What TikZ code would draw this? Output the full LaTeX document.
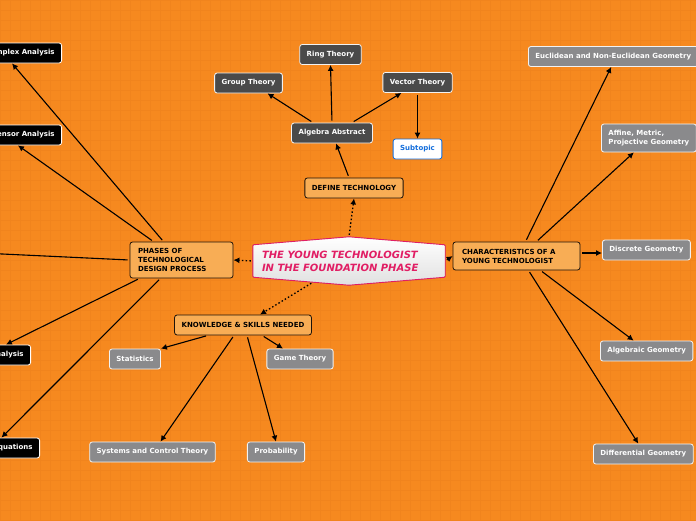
\documentclass[tikz,border=0pt]{standalone}
\usepackage{fontspec}
\setmainfont{DejaVu Sans}
\usetikzlibrary{arrows.meta,calc}
\definecolor{bg}{RGB}{246,137,31}
\definecolor{gridc}{RGB}{241,132,29}
\definecolor{boxo}{RGB}{248,173,85}
\definecolor{boxg}{RGB}{138,138,140}
\definecolor{boxd}{RGB}{74,74,74}
\definecolor{rootc}{RGB}{225,30,100}
\definecolor{subc}{RGB}{20,110,220}

\begin{document}
\begin{tikzpicture}[x=1pt,y=-1pt,
  lbl/.style={font=\fontsize{7}{9}\selectfont\bfseries,rounded corners=2.5pt,
    minimum height=20pt,inner xsep=7pt,inner ysep=2pt,line width=0.8pt},
  orng/.style={lbl,draw=black!85!brown,fill=boxo},
  gry/.style={lbl,draw=white!90!gray,fill=boxg,text=white},
  drk/.style={lbl,draw=white!90!gray,fill=boxd,text=white},
  blk/.style={lbl,draw=white,fill=black,text=white,anchor=east},
  sub/.style={lbl,draw=subc,fill=white,text=subc},
  link/.style={-{Latex[length=6pt,width=6pt]},line width=1.1pt,shorten <=2pt},
  dlink/.style={link,line width=1.3pt,dash pattern=on 1.5pt off 2.2pt}]
  \useasboundingbox (0,0) rectangle (696,520);
  \fill[bg] (0,0) rectangle (696,520);
  \draw[gridc,line width=0.35pt,step=10pt] (0,0) grid (696,520);
  \clip (0,0) rectangle (696,520);

  % central topic
  \node[minimum width=192pt,minimum height=48pt,inner sep=0pt] (root) at (349,261) {};
  \filldraw[draw=rootc,line width=0.9pt,top color=white,bottom color=black!12,rounded corners=1pt]
    ([yshift=-8pt]root.north west) -- (root.north) -- ([yshift=-8pt]root.north east)
    -- ([yshift=8pt]root.south east) -- (root.south) -- ([yshift=8pt]root.south west) -- cycle;
  \node[text=rootc,font=\fontsize{10}{13}\selectfont\bfseries\itshape,align=left,anchor=west,inner sep=0pt]
    (roottxt) at ([xshift=9pt]root.west) {THE YOUNG TECHNOLOGIST\\IN THE FOUNDATION PHASE};

  % main branches
  \node[orng,text width=87pt,align=left,minimum height=36pt,inner xsep=8pt] (phases) at (181.5,260)
    {PHASES OF\\TECHNOLOGICAL\\DESIGN PROCESS};
  \node[orng,text width=109pt,align=left,minimum height=28pt,inner xsep=9pt] (chars) at (516.5,256)
    {CHARACTERISTICS OF A\\YOUNG TECHNOLOGIST};
  \node[orng] (define) at (354,188) {DEFINE TECHNOLOGY};
  \node[orng] (know) at (243,325) {KNOWLEDGE \& SKILLS NEEDED};

  % define technology
  \node[drk] (alg) at (332,133) {Algebra Abstract};
  \node[drk] (ring) at (330.5,54.5) {Ring Theory};
  \node[drk] (group) at (248.5,83) {Group Theory};
  \node[drk] (vector) at (417.5,82.5) {Vector Theory};
  \node[sub] (subtopic) at (417.5,149) {Subtopic};

  % knowledge
  \node[gry] (stats) at (135,359) {Statistics};
  \node[gry] (game) at (300,359) {Game Theory};
  \node[gry] (systems) at (152.5,452) {Systems and Control Theory};
  \node[gry] (prob) at (276,452) {Probability};

  % characteristics
  \node[gry,anchor=west] (euclid) at (528,56.5) {Euclidean and Non-Euclidean Geometry};
  \node[gry,anchor=west,align=left,minimum height=28pt] (affine) at (601,138)
    {Affine, Metric,\\Projective Geometry};
  \node[gry,anchor=west] (discrete) at (602,250) {Discrete Geometry};
  \node[gry,anchor=west] (algebraic) at (600,351) {Algebraic Geometry};
  \node[gry,anchor=west] (differential) at (593,454) {Differential Geometry};

  % phases
  \node[blk] (complex) at (62,53) {Complex Analysis};
  \node[blk] (tensor) at (62,135) {Tensor Analysis};
  \node[blk] (numerical) at (31,355) {Numerical Analysis};
  \node[blk] (equations) at (40,448) {Differential Equations};
  \coordinate (offleft) at (-40,252);

  % connectors
  \draw[dlink] (root.west) -- (phases.east);
  \draw[dlink] (root.north) -- (define.south);
  \draw[dlink] ([xshift=-36pt,yshift=3pt]root.south) -- ([xshift=17pt]know.north);
  \draw[dlink] (root.east) -- (chars.west);

  \draw[link] ([xshift=-5pt]define.north) -- ([xshift=4pt]alg.south);
  \draw[link] ([xshift=-19pt]alg.north) -- ([xshift=19pt]group.south);
  \draw[link] (alg.north) -- (ring.south);
  \draw[link] ([xshift=20pt]alg.north) -- ([xshift=-16pt]vector.south);
  \draw[link] (vector.south) -- (subtopic.north);

  \draw[link] ([xshift=-18pt]phases.north) -- ([xshift=-8pt]complex.south);
  \draw[link] ([xshift=-28pt]phases.north) -- ([xshift=-6pt]tensor.south);
  \draw[link] (phases.west) -- (offleft);
  \draw[link] ([xshift=10pt]phases.south west) -- ([xshift=20pt]numerical.north);
  \draw[link] ([xshift=-21pt]phases.south) -- ([xshift=12pt]equations.north);

  \draw[link] ([xshift=-35pt]know.south) -- (stats.north east);
  \draw[link] ([xshift=-9pt]know.south) -- ([xshift=8pt]systems.north);
  \draw[link] ([xshift=4pt]know.south) -- (prob.north);
  \draw[link] ([xshift=19pt]know.south) -- ([xshift=-17pt]game.north);

  \draw[link] ([xshift=9pt]chars.north) -- ([xshift=-2pt]euclid.south);
  \draw[link] ([xshift=20pt]chars.north) -- ([xshift=-15pt]affine.south);
  \draw[link] ([yshift=3pt]chars.east) -- ([yshift=-3pt]discrete.west);
  \draw[link] ([xshift=24pt]chars.south) -- ([xshift=-13pt]algebraic.north);
  \draw[link] ([xshift=12pt]chars.south) -- ([xshift=-5pt]differential.north);
\end{tikzpicture}
\end{document}
